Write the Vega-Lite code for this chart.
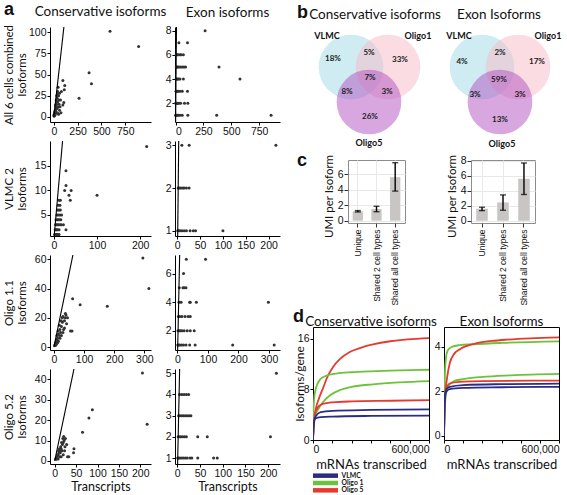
{
"$schema":"https://vega.github.io/schema/vega-lite/v6.json",
"padding":{"left":2,"top":0,"right":0,"bottom":0},
"background":"white",
"config":{
 "view":{"stroke":null},
 "concat":{"spacing":0},
 "axis":{"labelFont":"Liberation Sans","labelFontSize":10.5,"labelColor":"#111","tickColor":"#000","domainColor":"#000","tickSize":3,"labelPadding":1,"labelOverlap":false,"titleFont":"Lato","titleFontWeight":"normal","titleFontSize":12,"titleColor":"#111","grid":false},
 "title":{"font":"Lato","fontWeight":"normal","fontSize":13.5,"color":"#111"},
 "text":{"font":"Lato"}
},
"datasets":{
 "sc":[
  {"p":"r1c","t":590,"i":101},{"p":"r1c","t":890,"i":83},{"p":"r1c","t":370,"i":52},{"p":"r1c","t":395,"i":39},{"p":"r1c","t":265,"i":22},{"p":"r1c","t":95,"i":43},{"p":"r1c","t":115,"i":37},{"p":"r1c","t":110,"i":32},{"p":"r1c","t":45,"i":35},{"p":"r1c","t":40,"i":30},{"p":"r1c","t":80,"i":30},{"p":"r1c","t":105,"i":17},{"p":"r1c","t":95,"i":14},{"p":"r1c","t":45,"i":4},{"p":"r1c","t":60,"i":8},{"p":"r1c","t":30,"i":25},{"p":"r1c","t":35,"i":22},{"p":"r1c","t":25,"i":20},{"p":"r1c","t":50,"i":25},{"p":"r1c","t":55,"i":20},{"p":"r1c","t":40,"i":18},{"p":"r1c","t":30,"i":15},{"p":"r1c","t":20,"i":12},{"p":"r1c","t":25,"i":10},{"p":"r1c","t":15,"i":8},{"p":"r1c","t":10,"i":6},{"p":"r1c","t":8,"i":5},{"p":"r1c","t":5,"i":3},{"p":"r1c","t":3,"i":2},{"p":"r1c","t":2,"i":1},{"p":"r1c","t":12,"i":3},{"p":"r1c","t":20,"i":5},{"p":"r1c","t":35,"i":10},{"p":"r1c","t":45,"i":12},{"p":"r1c","t":55,"i":15},{"p":"r1c","t":65,"i":12},{"p":"r1c","t":70,"i":20},{"p":"r1c","t":60,"i":28},{"p":"r1c","t":38,"i":27},{"p":"r1c","t":28,"i":18},{"p":"r1c","t":18,"i":14},{"p":"r1c","t":6,"i":4},{"p":"r1c","t":4,"i":1},{"p":"r1c","t":10,"i":2},{"p":"r1c","t":15,"i":4},{"p":"r1c","t":25,"i":6},{"p":"r1c","t":75,"i":5},{"p":"r1c","t":50,"i":3},
  {"p":"r1e","t":265,"i":8},{"p":"r1e","t":30,"i":7},{"p":"r1e","t":107,"i":7},{"p":"r1e","t":6,"i":6},{"p":"r1e","t":15,"i":6},{"p":"r1e","t":25,"i":6},{"p":"r1e","t":40,"i":6},{"p":"r1e","t":50,"i":6},{"p":"r1e","t":70,"i":6},{"p":"r1e","t":6,"i":5},{"p":"r1e","t":12,"i":5},{"p":"r1e","t":20,"i":5},{"p":"r1e","t":30,"i":5},{"p":"r1e","t":45,"i":5},{"p":"r1e","t":60,"i":5},{"p":"r1e","t":75,"i":5},{"p":"r1e","t":90,"i":5},{"p":"r1e","t":390,"i":5},{"p":"r1e","t":5,"i":4},{"p":"r1e","t":10,"i":4},{"p":"r1e","t":18,"i":4},{"p":"r1e","t":28,"i":4},{"p":"r1e","t":40,"i":4},{"p":"r1e","t":70,"i":4},{"p":"r1e","t":578,"i":4},{"p":"r1e","t":4,"i":3},{"p":"r1e","t":8,"i":3},{"p":"r1e","t":15,"i":3},{"p":"r1e","t":25,"i":3},{"p":"r1e","t":40,"i":3},{"p":"r1e","t":60,"i":3},{"p":"r1e","t":107,"i":3},{"p":"r1e","t":2,"i":2},{"p":"r1e","t":6,"i":2},{"p":"r1e","t":12,"i":2},{"p":"r1e","t":20,"i":2},{"p":"r1e","t":30,"i":2},{"p":"r1e","t":45,"i":2},{"p":"r1e","t":80,"i":2},{"p":"r1e","t":110,"i":2},{"p":"r1e","t":1,"i":1},{"p":"r1e","t":4,"i":1},{"p":"r1e","t":8,"i":1},{"p":"r1e","t":15,"i":1},{"p":"r1e","t":25,"i":1},{"p":"r1e","t":40,"i":1},{"p":"r1e","t":60,"i":1},{"p":"r1e","t":110,"i":1},{"p":"r1e","t":369,"i":1},{"p":"r1e","t":857,"i":1},
  {"p":"r2c","t":215,"i":19},{"p":"r2c","t":100,"i":9},{"p":"r2c","t":28,"i":14},{"p":"r2c","t":28,"i":11},{"p":"r2c","t":25,"i":10},{"p":"r2c","t":35,"i":9},{"p":"r2c","t":40,"i":10},{"p":"r2c","t":38,"i":8},{"p":"r2c","t":22,"i":3},{"p":"r2c","t":28,"i":2},{"p":"r2c","t":2,"i":1},{"p":"r2c","t":3,"i":1},{"p":"r2c","t":4,"i":1},{"p":"r2c","t":5,"i":1},{"p":"r2c","t":6,"i":1},{"p":"r2c","t":8,"i":1},{"p":"r2c","t":10,"i":1},{"p":"r2c","t":12,"i":1},{"p":"r2c","t":3,"i":2},{"p":"r2c","t":5,"i":2},{"p":"r2c","t":7,"i":2},{"p":"r2c","t":9,"i":2},{"p":"r2c","t":12,"i":2},{"p":"r2c","t":4,"i":3},{"p":"r2c","t":6,"i":3},{"p":"r2c","t":8,"i":3},{"p":"r2c","t":11,"i":3},{"p":"r2c","t":14,"i":3},{"p":"r2c","t":5,"i":4},{"p":"r2c","t":8,"i":4},{"p":"r2c","t":10,"i":4},{"p":"r2c","t":13,"i":4},{"p":"r2c","t":16,"i":4},{"p":"r2c","t":7,"i":5},{"p":"r2c","t":10,"i":5},{"p":"r2c","t":14,"i":5},{"p":"r2c","t":9,"i":6},{"p":"r2c","t":12,"i":6},{"p":"r2c","t":15,"i":6},{"p":"r2c","t":10,"i":7},{"p":"r2c","t":14,"i":7},{"p":"r2c","t":12,"i":8},{"p":"r2c","t":15,"i":8},{"p":"r2c","t":18,"i":5},{"p":"r2c","t":17,"i":3},
  {"p":"r2e","t":10,"i":3},{"p":"r2e","t":26,"i":3},{"p":"r2e","t":216,"i":3},{"p":"r2e","t":2,"i":2},{"p":"r2e","t":5,"i":2},{"p":"r2e","t":8,"i":2},{"p":"r2e","t":12,"i":2},{"p":"r2e","t":15,"i":2},{"p":"r2e","t":20,"i":2},{"p":"r2e","t":26,"i":2},{"p":"r2e","t":1,"i":1},{"p":"r2e","t":3,"i":1},{"p":"r2e","t":6,"i":1},{"p":"r2e","t":10,"i":1},{"p":"r2e","t":15,"i":1},{"p":"r2e","t":20,"i":1},{"p":"r2e","t":28,"i":1},{"p":"r2e","t":35,"i":1},{"p":"r2e","t":40,"i":1},{"p":"r2e","t":100,"i":1},
  {"p":"r3c","t":295,"i":61},{"p":"r3c","t":315,"i":40},{"p":"r3c","t":62,"i":33},{"p":"r3c","t":87,"i":29},{"p":"r3c","t":177,"i":28},{"p":"r3c","t":40,"i":22},{"p":"r3c","t":38,"i":20},{"p":"r3c","t":35,"i":18},{"p":"r3c","t":42,"i":16},{"p":"r3c","t":30,"i":21},{"p":"r3c","t":28,"i":17},{"p":"r3c","t":25,"i":14},{"p":"r3c","t":32,"i":12},{"p":"r3c","t":55,"i":11},{"p":"r3c","t":60,"i":11},{"p":"r3c","t":20,"i":12},{"p":"r3c","t":22,"i":10},{"p":"r3c","t":18,"i":8},{"p":"r3c","t":15,"i":9},{"p":"r3c","t":12,"i":6},{"p":"r3c","t":10,"i":5},{"p":"r3c","t":8,"i":4},{"p":"r3c","t":6,"i":3},{"p":"r3c","t":4,"i":2},{"p":"r3c","t":3,"i":1},{"p":"r3c","t":5,"i":1},{"p":"r3c","t":8,"i":2},{"p":"r3c","t":12,"i":3},{"p":"r3c","t":15,"i":4},{"p":"r3c","t":20,"i":6},{"p":"r3c","t":25,"i":8},{"p":"r3c","t":30,"i":10},{"p":"r3c","t":35,"i":13},{"p":"r3c","t":28,"i":20},{"p":"r3c","t":45,"i":20},{"p":"r3c","t":38,"i":23},{"p":"r3c","t":24,"i":18},{"p":"r3c","t":14,"i":11},{"p":"r3c","t":10,"i":8},{"p":"r3c","t":18,"i":15},
  {"p":"r3e","t":29,"i":7},{"p":"r3e","t":92,"i":7},{"p":"r3e","t":20,"i":6},{"p":"r3e","t":6,"i":5},{"p":"r3e","t":18,"i":5},{"p":"r3e","t":22,"i":5},{"p":"r3e","t":28,"i":5},{"p":"r3e","t":5,"i":4},{"p":"r3e","t":12,"i":4},{"p":"r3e","t":40,"i":4},{"p":"r3e","t":42,"i":4},{"p":"r3e","t":62,"i":4},{"p":"r3e","t":298,"i":4},{"p":"r3e","t":3,"i":3},{"p":"r3e","t":8,"i":3},{"p":"r3e","t":15,"i":3},{"p":"r3e","t":25,"i":3},{"p":"r3e","t":35,"i":3},{"p":"r3e","t":42,"i":3},{"p":"r3e","t":2,"i":2},{"p":"r3e","t":6,"i":2},{"p":"r3e","t":10,"i":2},{"p":"r3e","t":15,"i":2},{"p":"r3e","t":22,"i":2},{"p":"r3e","t":32,"i":2},{"p":"r3e","t":42,"i":2},{"p":"r3e","t":55,"i":2},{"p":"r3e","t":1,"i":1},{"p":"r3e","t":4,"i":1},{"p":"r3e","t":8,"i":1},{"p":"r3e","t":14,"i":1},{"p":"r3e","t":20,"i":1},{"p":"r3e","t":28,"i":1},{"p":"r3e","t":40,"i":1},{"p":"r3e","t":58,"i":1},{"p":"r3e","t":181,"i":1},{"p":"r3e","t":317,"i":1},
  {"p":"r4c","t":205,"i":43},{"p":"r4c","t":216,"i":18},{"p":"r4c","t":88,"i":25},{"p":"r4c","t":80,"i":21},{"p":"r4c","t":65,"i":14},{"p":"r4c","t":45,"i":6},{"p":"r4c","t":44,"i":4},{"p":"r4c","t":33,"i":2},{"p":"r4c","t":25,"i":11},{"p":"r4c","t":22,"i":10},{"p":"r4c","t":20,"i":9},{"p":"r4c","t":18,"i":8},{"p":"r4c","t":24,"i":7},{"p":"r4c","t":15,"i":6},{"p":"r4c","t":12,"i":5},{"p":"r4c","t":10,"i":4},{"p":"r4c","t":8,"i":3},{"p":"r4c","t":6,"i":2},{"p":"r4c","t":4,"i":1},{"p":"r4c","t":3,"i":1},{"p":"r4c","t":2,"i":1},{"p":"r4c","t":5,"i":2},{"p":"r4c","t":7,"i":3},{"p":"r4c","t":9,"i":5},{"p":"r4c","t":11,"i":6},{"p":"r4c","t":14,"i":7},{"p":"r4c","t":16,"i":9},{"p":"r4c","t":19,"i":11},{"p":"r4c","t":21,"i":12},{"p":"r4c","t":13,"i":4},{"p":"r4c","t":17,"i":5},{"p":"r4c","t":8,"i":1},{"p":"r4c","t":12,"i":2},{"p":"r4c","t":20,"i":3},{"p":"r4c","t":23,"i":5},{"p":"r4c","t":28,"i":8},{"p":"r4c","t":30,"i":2},{"p":"r4c","t":15,"i":2},
  {"p":"r4e","t":218,"i":5},{"p":"r4e","t":5,"i":4},{"p":"r4e","t":10,"i":4},{"p":"r4e","t":15,"i":4},{"p":"r4e","t":20,"i":4},{"p":"r4e","t":25,"i":4},{"p":"r4e","t":3,"i":3},{"p":"r4e","t":6,"i":3},{"p":"r4e","t":10,"i":3},{"p":"r4e","t":14,"i":3},{"p":"r4e","t":18,"i":3},{"p":"r4e","t":22,"i":3},{"p":"r4e","t":26,"i":3},{"p":"r4e","t":30,"i":3},{"p":"r4e","t":2,"i":2},{"p":"r4e","t":5,"i":2},{"p":"r4e","t":8,"i":2},{"p":"r4e","t":12,"i":2},{"p":"r4e","t":16,"i":2},{"p":"r4e","t":20,"i":2},{"p":"r4e","t":45,"i":2},{"p":"r4e","t":66,"i":2},{"p":"r4e","t":205,"i":2},{"p":"r4e","t":1,"i":1},{"p":"r4e","t":3,"i":1},{"p":"r4e","t":6,"i":1},{"p":"r4e","t":10,"i":1},{"p":"r4e","t":14,"i":1},{"p":"r4e","t":18,"i":1},{"p":"r4e","t":22,"i":1},{"p":"r4e","t":28,"i":1},{"p":"r4e","t":32,"i":1},{"p":"r4e","t":45,"i":1},{"p":"r4e","t":80,"i":1},{"p":"r4e","t":88,"i":1}
 ],
 "idl":[{"t":0,"i":0,"t2":5000,"i2":5000}],
 "venn":[
  {"v":1,"set":"VLMC","cx":38,"cy":40},{"v":1,"set":"Oligo1","cx":75,"cy":40},{"v":1,"set":"Oligo5","cx":56,"cy":75},
  {"v":2,"set":"VLMC","cx":40,"cy":40},{"v":2,"set":"Oligo1","cx":76,"cy":40},{"v":2,"set":"Oligo5","cx":58,"cy":75}
 ],
 "vennlab":[
  {"v":1,"set":"VLMC","lx":14,"ly":9},{"v":1,"set":"Oligo1","lx":105,"ly":9},{"v":1,"set":"Oligo5","lx":56,"ly":116},
  {"v":2,"set":"VLMC","lx":17,"ly":9},{"v":2,"set":"Oligo1","lx":106,"ly":9},{"v":2,"set":"Oligo5","lx":60,"ly":117}
 ],
 "vennpct":[
  {"v":1,"pct":"18%","px":20,"py":32},{"v":1,"pct":"5%","px":56,"py":26},{"v":1,"pct":"33%","px":87,"py":33},{"v":1,"pct":"7%","px":57,"py":51},{"v":1,"pct":"8%","px":34,"py":65},{"v":1,"pct":"3%","px":74,"py":65},{"v":1,"pct":"26%","px":57,"py":90},
  {"v":2,"pct":"4%","px":20,"py":35},{"v":2,"pct":"2%","px":58,"py":26},{"v":2,"pct":"17%","px":95,"py":35},{"v":2,"pct":"59%","px":57,"py":53},{"v":2,"pct":"3%","px":33,"py":68},{"v":2,"pct":"3%","px":78,"py":68},{"v":2,"pct":"13%","px":58,"py":93}
 ],
 "umi":[
  {"g":"C","cat":"Unique","m":1.2,"lo":1.12,"hi":1.3},{"g":"C","cat":"Shared 2 cell types","m":1.5,"lo":1.15,"hi":1.85},{"g":"C","cat":"Shared all cell types","m":5.6,"lo":3.8,"hi":7.45},
  {"g":"E","cat":"Unique","m":1.6,"lo":1.35,"hi":1.8},{"g":"E","cat":"Shared 2 cell types","m":2.45,"lo":1.4,"hi":3.45},{"g":"E","cat":"Shared all cell types","m":5.6,"lo":3.5,"hi":7.7}
 ],
 "leg":[{"cell":"VLMC"},{"cell":"Oligo 1"},{"cell":"Oligo 5"}],
 "curves":[
  {"s":"C","cell":"Oligo 5","rep":"a","n":0,"y":0},{"s":"C","cell":"Oligo 5","rep":"a","n":5000,"y":3},{"s":"C","cell":"Oligo 5","rep":"a","n":15000,"y":5},{"s":"C","cell":"Oligo 5","rep":"a","n":30000,"y":6.5},{"s":"C","cell":"Oligo 5","rep":"a","n":52000,"y":8.2},{"s":"C","cell":"Oligo 5","rep":"a","n":75000,"y":10},{"s":"C","cell":"Oligo 5","rep":"a","n":103000,"y":11.5},{"s":"C","cell":"Oligo 5","rep":"a","n":140000,"y":12.8},{"s":"C","cell":"Oligo 5","rep":"a","n":190000,"y":13.9},{"s":"C","cell":"Oligo 5","rep":"a","n":250000,"y":14.6},{"s":"C","cell":"Oligo 5","rep":"a","n":310000,"y":15.1},{"s":"C","cell":"Oligo 5","rep":"a","n":400000,"y":15.6},{"s":"C","cell":"Oligo 5","rep":"a","n":490000,"y":15.9},{"s":"C","cell":"Oligo 5","rep":"a","n":600000,"y":16.1},
  {"s":"C","cell":"Oligo 1","rep":"a","n":0,"y":0},{"s":"C","cell":"Oligo 1","rep":"a","n":2000,"y":4},{"s":"C","cell":"Oligo 1","rep":"a","n":6000,"y":6.5},{"s":"C","cell":"Oligo 1","rep":"a","n":12000,"y":7.8},{"s":"C","cell":"Oligo 1","rep":"a","n":21000,"y":8.7},{"s":"C","cell":"Oligo 1","rep":"a","n":35000,"y":9.5},{"s":"C","cell":"Oligo 1","rep":"a","n":52000,"y":9.9},{"s":"C","cell":"Oligo 1","rep":"a","n":80000,"y":10.3},{"s":"C","cell":"Oligo 1","rep":"a","n":120000,"y":10.5},{"s":"C","cell":"Oligo 1","rep":"a","n":200000,"y":10.7},{"s":"C","cell":"Oligo 1","rep":"a","n":300000,"y":10.85},{"s":"C","cell":"Oligo 1","rep":"a","n":450000,"y":11},{"s":"C","cell":"Oligo 1","rep":"a","n":600000,"y":11.1},
  {"s":"C","cell":"Oligo 1","rep":"b","n":0,"y":0},{"s":"C","cell":"Oligo 1","rep":"b","n":3000,"y":2.5},{"s":"C","cell":"Oligo 1","rep":"b","n":10000,"y":3.8},{"s":"C","cell":"Oligo 1","rep":"b","n":26000,"y":4.8},{"s":"C","cell":"Oligo 1","rep":"b","n":52000,"y":6},{"s":"C","cell":"Oligo 1","rep":"b","n":90000,"y":7.1},{"s":"C","cell":"Oligo 1","rep":"b","n":140000,"y":7.9},{"s":"C","cell":"Oligo 1","rep":"b","n":200000,"y":8.4},{"s":"C","cell":"Oligo 1","rep":"b","n":310000,"y":8.8},{"s":"C","cell":"Oligo 1","rep":"b","n":450000,"y":9.1},{"s":"C","cell":"Oligo 1","rep":"b","n":600000,"y":9.3},
  {"s":"C","cell":"Oligo 5","rep":"b","n":0,"y":0},{"s":"C","cell":"Oligo 5","rep":"b","n":3000,"y":2.5},{"s":"C","cell":"Oligo 5","rep":"b","n":10000,"y":4},{"s":"C","cell":"Oligo 5","rep":"b","n":25000,"y":5.2},{"s":"C","cell":"Oligo 5","rep":"b","n":50000,"y":5.7},{"s":"C","cell":"Oligo 5","rep":"b","n":100000,"y":5.95},{"s":"C","cell":"Oligo 5","rep":"b","n":200000,"y":6.1},{"s":"C","cell":"Oligo 5","rep":"b","n":400000,"y":6.2},{"s":"C","cell":"Oligo 5","rep":"b","n":600000,"y":6.3},
  {"s":"C","cell":"VLMC","rep":"a","n":0,"y":0},{"s":"C","cell":"VLMC","rep":"a","n":4000,"y":2.5},{"s":"C","cell":"VLMC","rep":"a","n":15000,"y":3.8},{"s":"C","cell":"VLMC","rep":"a","n":40000,"y":4.4},{"s":"C","cell":"VLMC","rep":"a","n":100000,"y":4.6},{"s":"C","cell":"VLMC","rep":"a","n":300000,"y":4.75},{"s":"C","cell":"VLMC","rep":"a","n":600000,"y":4.85},
  {"s":"C","cell":"VLMC","rep":"b","n":0,"y":0},{"s":"C","cell":"VLMC","rep":"b","n":3000,"y":2.4},{"s":"C","cell":"VLMC","rep":"b","n":12000,"y":3.4},{"s":"C","cell":"VLMC","rep":"b","n":40000,"y":3.6},{"s":"C","cell":"VLMC","rep":"b","n":100000,"y":3.7},{"s":"C","cell":"VLMC","rep":"b","n":300000,"y":3.8},{"s":"C","cell":"VLMC","rep":"b","n":600000,"y":3.85},
  {"s":"E","cell":"Oligo 1","rep":"a","n":0,"y":0},{"s":"E","cell":"Oligo 1","rep":"a","n":2000,"y":1.5},{"s":"E","cell":"Oligo 1","rep":"a","n":5000,"y":2.8},{"s":"E","cell":"Oligo 1","rep":"a","n":10000,"y":3.5},{"s":"E","cell":"Oligo 1","rep":"a","n":20000,"y":3.85},{"s":"E","cell":"Oligo 1","rep":"a","n":40000,"y":4.0},{"s":"E","cell":"Oligo 1","rep":"a","n":80000,"y":4.08},{"s":"E","cell":"Oligo 1","rep":"a","n":150000,"y":4.12},{"s":"E","cell":"Oligo 1","rep":"a","n":300000,"y":4.18},{"s":"E","cell":"Oligo 1","rep":"a","n":600000,"y":4.25},
  {"s":"E","cell":"Oligo 5","rep":"a","n":0,"y":0},{"s":"E","cell":"Oligo 5","rep":"a","n":3000,"y":1.2},{"s":"E","cell":"Oligo 5","rep":"a","n":8000,"y":2.0},{"s":"E","cell":"Oligo 5","rep":"a","n":16000,"y":2.6},{"s":"E","cell":"Oligo 5","rep":"a","n":31000,"y":3.3},{"s":"E","cell":"Oligo 5","rep":"a","n":50000,"y":3.65},{"s":"E","cell":"Oligo 5","rep":"a","n":83000,"y":3.9},{"s":"E","cell":"Oligo 5","rep":"a","n":120000,"y":4.05},{"s":"E","cell":"Oligo 5","rep":"a","n":170000,"y":4.17},{"s":"E","cell":"Oligo 5","rep":"a","n":250000,"y":4.27},{"s":"E","cell":"Oligo 5","rep":"a","n":330000,"y":4.33},{"s":"E","cell":"Oligo 5","rep":"a","n":450000,"y":4.39},{"s":"E","cell":"Oligo 5","rep":"a","n":600000,"y":4.43},
  {"s":"E","cell":"Oligo 1","rep":"b","n":0,"y":0},{"s":"E","cell":"Oligo 1","rep":"b","n":3000,"y":1.0},{"s":"E","cell":"Oligo 1","rep":"b","n":8000,"y":1.7},{"s":"E","cell":"Oligo 1","rep":"b","n":20000,"y":2.2},{"s":"E","cell":"Oligo 1","rep":"b","n":50000,"y":2.45},{"s":"E","cell":"Oligo 1","rep":"b","n":100000,"y":2.55},{"s":"E","cell":"Oligo 1","rep":"b","n":200000,"y":2.65},{"s":"E","cell":"Oligo 1","rep":"b","n":350000,"y":2.72},{"s":"E","cell":"Oligo 1","rep":"b","n":600000,"y":2.78},
  {"s":"E","cell":"Oligo 5","rep":"b","n":0,"y":0},{"s":"E","cell":"Oligo 5","rep":"b","n":3000,"y":1.4},{"s":"E","cell":"Oligo 5","rep":"b","n":10000,"y":2.1},{"s":"E","cell":"Oligo 5","rep":"b","n":30000,"y":2.35},{"s":"E","cell":"Oligo 5","rep":"b","n":80000,"y":2.42},{"s":"E","cell":"Oligo 5","rep":"b","n":200000,"y":2.46},{"s":"E","cell":"Oligo 5","rep":"b","n":600000,"y":2.48},
  {"s":"E","cell":"VLMC","rep":"a","n":0,"y":0},{"s":"E","cell":"VLMC","rep":"a","n":3000,"y":1.5},{"s":"E","cell":"VLMC","rep":"a","n":10000,"y":2.05},{"s":"E","cell":"VLMC","rep":"a","n":30000,"y":2.2},{"s":"E","cell":"VLMC","rep":"a","n":100000,"y":2.28},{"s":"E","cell":"VLMC","rep":"a","n":300000,"y":2.32},{"s":"E","cell":"VLMC","rep":"a","n":600000,"y":2.34},
  {"s":"E","cell":"VLMC","rep":"b","n":0,"y":0},{"s":"E","cell":"VLMC","rep":"b","n":3000,"y":1.4},{"s":"E","cell":"VLMC","rep":"b","n":10000,"y":1.95},{"s":"E","cell":"VLMC","rep":"b","n":30000,"y":2.1},{"s":"E","cell":"VLMC","rep":"b","n":100000,"y":2.15},{"s":"E","cell":"VLMC","rep":"b","n":300000,"y":2.18},{"s":"E","cell":"VLMC","rep":"b","n":600000,"y":2.2}
 ]
},
"spacing":12,
"hconcat":[
 {"spacing":3,
  "title":{"text":"a","anchor":"start","frame":"group","font":"Liberation Sans","fontSize":18,"fontWeight":"bold","dx":-46,"offset":0,"dy":14},
  "vconcat":[
   {"bounds":"flush","spacing":24,"hconcat":[
    {"width":101,"height":95,"title":{"text":"Conservative isoforms","offset":6},
     "encoding":{"x":{"field":"t","type":"quantitative","scale":{"domain":[-40,1020],"nice":false,"zero":false},"axis":{"values":[0,250,500,750],"title":null}},
        "y":{"field":"i","type":"quantitative","scale":{"domain":[-6,106],"nice":false,"zero":false},"axis":{"values":[0,25,50,75,100],"title":["All 6 cells combined","Isoforms"],"titleX":-47,"titleBaseline":"top","titleLineHeight":13,"titleFontSize":11.5}}},
     "layer":[
      {"data":{"name":"sc"},"transform":[{"filter":"datum.p == 'r1c'"}],"mark":{"type":"circle","size":9,"color":"#333","opacity":1}},
      {"data":{"name":"idl"},"mark":{"type":"rule","clip":true,"color":"#000","strokeWidth":1.1},"encoding":{"x2":{"field":"t2"},"y2":{"field":"i2"}}}
     ]},
    {"width":105,"height":95,"title":{"text":"Exon isoforms","offset":6},
     "encoding":{"x":{"field":"t","type":"quantitative","scale":{"domain":[-5,937],"nice":false,"zero":false},"axis":{"values":[0,250,500,750],"title":null}},
        "y":{"field":"i","type":"quantitative","scale":{"domain":[0.45,8.3],"nice":false,"zero":false},"axis":{"values":[2,4,6,8],"title":null}}},
     "layer":[
      {"data":{"name":"sc"},"transform":[{"filter":"datum.p == 'r1e'"}],"mark":{"type":"circle","size":9,"color":"#333","opacity":1}},
      {"data":{"name":"idl"},"mark":{"type":"rule","clip":true,"color":"#000","strokeWidth":1.1},"encoding":{"x2":{"field":"t2"},"y2":{"field":"i2"}}}
     ]}
   ]},
   {"bounds":"flush","spacing":24,"hconcat":[
    {"width":101,"height":95,
     "encoding":{"x":{"field":"t","type":"quantitative","scale":{"domain":[-9,225],"nice":false,"zero":false},"axis":{"values":[0,100,200],"title":null}},
        "y":{"field":"i","type":"quantitative","scale":{"domain":[0.7,20.1],"nice":false,"zero":false},"axis":{"values":[5,10,15],"title":["VLMC 2","Isoforms"],"titleX":-47,"titleBaseline":"top","titleLineHeight":13,"titleFontSize":11.5}}},
     "layer":[
      {"data":{"name":"sc"},"transform":[{"filter":"datum.p == 'r2c'"}],"mark":{"type":"circle","size":9,"color":"#333","opacity":1}},
      {"data":{"name":"idl"},"mark":{"type":"rule","clip":true,"color":"#000","strokeWidth":1.1},"encoding":{"x2":{"field":"t2"},"y2":{"field":"i2"}}}
     ]},
    {"width":105,"height":95,
     "encoding":{"x":{"field":"t","type":"quantitative","scale":{"domain":[-5,225],"nice":false,"zero":false},"axis":{"values":[0,50,100,150,200],"title":null}},
        "y":{"field":"i","type":"quantitative","scale":{"domain":[0.88,3.1],"nice":false,"zero":false},"axis":{"values":[1,2,3],"title":null}}},
     "layer":[
      {"data":{"name":"sc"},"transform":[{"filter":"datum.p == 'r2e'"}],"mark":{"type":"circle","size":9,"color":"#333","opacity":1}},
      {"data":{"name":"idl"},"mark":{"type":"rule","clip":true,"color":"#000","strokeWidth":1.1},"encoding":{"x2":{"field":"t2"},"y2":{"field":"i2"}}}
     ]}
   ]},
   {"bounds":"flush","spacing":24,"hconcat":[
    {"width":101,"height":95,
     "encoding":{"x":{"field":"t","type":"quantitative","scale":{"domain":[-13,322],"nice":false,"zero":false},"axis":{"values":[0,100,200,300],"title":null}},
        "y":{"field":"i","type":"quantitative","scale":{"domain":[-2,63],"nice":false,"zero":false},"axis":{"values":[0,20,40,60],"title":["Oligo 1.1","Isoforms"],"titleX":-47,"titleBaseline":"top","titleLineHeight":13,"titleFontSize":11.5}}},
     "layer":[
      {"data":{"name":"sc"},"transform":[{"filter":"datum.p == 'r3c'"}],"mark":{"type":"circle","size":9,"color":"#333","opacity":1}},
      {"data":{"name":"idl"},"mark":{"type":"rule","clip":true,"color":"#000","strokeWidth":1.1},"encoding":{"x2":{"field":"t2"},"y2":{"field":"i2"}}}
     ]},
    {"width":105,"height":95,
     "encoding":{"x":{"field":"t","type":"quantitative","scale":{"domain":[-8,336],"nice":false,"zero":false},"axis":{"values":[0,100,200,300],"title":null}},
        "y":{"field":"i","type":"quantitative","scale":{"domain":[0.65,7.3],"nice":false,"zero":false},"axis":{"values":[2,4,6],"title":null}}},
     "layer":[
      {"data":{"name":"sc"},"transform":[{"filter":"datum.p == 'r3e'"}],"mark":{"type":"circle","size":9,"color":"#333","opacity":1}},
      {"data":{"name":"idl"},"mark":{"type":"rule","clip":true,"color":"#000","strokeWidth":1.1},"encoding":{"x2":{"field":"t2"},"y2":{"field":"i2"}}}
     ]}
   ]},
   {"bounds":"flush","spacing":24,"hconcat":[
    {"width":101,"height":95,
     "encoding":{"x":{"field":"t","type":"quantitative","scale":{"domain":[-11,225],"nice":false,"zero":false},"axis":{"values":[0,50,100,150,200],"title":"Transcripts","titleFontSize":12.5,"titlePadding":2}},
        "y":{"field":"i","type":"quantitative","scale":{"domain":[-1.5,45],"nice":false,"zero":false},"axis":{"values":[0,10,20,30,40],"title":["Oligo 5.2","Isoforms"],"titleX":-47,"titleBaseline":"top","titleLineHeight":13,"titleFontSize":11.5}}},
     "layer":[
      {"data":{"name":"sc"},"transform":[{"filter":"datum.p == 'r4c'"}],"mark":{"type":"circle","size":9,"color":"#333","opacity":1}},
      {"data":{"name":"idl"},"mark":{"type":"rule","clip":true,"color":"#000","strokeWidth":1.1},"encoding":{"x2":{"field":"t2"},"y2":{"field":"i2"}}}
     ]},
    {"width":105,"height":95,
     "encoding":{"x":{"field":"t","type":"quantitative","scale":{"domain":[-5,226],"nice":false,"zero":false},"axis":{"values":[0,50,100,150,200],"title":"Transcripts","titleFontSize":12.5,"titlePadding":2}},
        "y":{"field":"i","type":"quantitative","scale":{"domain":[0.72,5.2],"nice":false,"zero":false},"axis":{"values":[1,2,3,4,5],"title":null}}},
     "layer":[
      {"data":{"name":"sc"},"transform":[{"filter":"datum.p == 'r4e'"}],"mark":{"type":"circle","size":9,"color":"#333","opacity":1}},
      {"data":{"name":"idl"},"mark":{"type":"rule","clip":true,"color":"#000","strokeWidth":1.1},"encoding":{"x2":{"field":"t2"},"y2":{"field":"i2"}}}
     ]}
   ]}
  ]},
 {"spacing":0,
  "vconcat":[
   {"bounds":"flush","spacing":5,
    "title":{"text":"b","anchor":"start","frame":"group","font":"Liberation Sans","fontSize":18,"fontWeight":"bold","dx":-16,"offset":0,"dy":14},
    "hconcat":[
     {"width":124,"height":122,"title":{"text":"Conservative isoforms","offset":6},
      "encoding":{"x":{"field":"cx","type":"quantitative","scale":{"domain":[0,124],"nice":false,"zero":false},"axis":null},
         "y":{"field":"cy","type":"quantitative","scale":{"domain":[0,122],"reverse":true,"nice":false,"zero":false},"axis":null}},
      "layer":[
       {"data":{"name":"venn"},"transform":[{"filter":"datum.v == 1"}],"mark":{"type":"circle","size":4185,"opacity":0.5},
        "encoding":{"fill":{"field":"set","type":"nominal","scale":{"domain":["VLMC","Oligo1","Oligo5"],"range":["#9dd9e6","#f8b9c6","#b24fc0"]},"legend":null}}},
       {"data":{"name":"vennlab"},"transform":[{"filter":"datum.v == 1"}],"mark":{"type":"text","fontSize":9,"fontWeight":"bold","color":"#111"},
        "encoding":{"x":{"field":"lx","type":"quantitative"},"y":{"field":"ly","type":"quantitative"},"text":{"field":"set"}}},
       {"data":{"name":"vennpct"},"transform":[{"filter":"datum.v == 1"}],"mark":{"type":"text","fontSize":8,"fontWeight":"bold","color":"#222"},
        "encoding":{"x":{"field":"px","type":"quantitative"},"y":{"field":"py","type":"quantitative"},"text":{"field":"pct"}}}
      ]},
     {"width":114,"height":122,"title":{"text":"Exon Isoforms","offset":6},
      "encoding":{"x":{"field":"cx","type":"quantitative","scale":{"domain":[0,114],"nice":false,"zero":false},"axis":null},
         "y":{"field":"cy","type":"quantitative","scale":{"domain":[0,122],"reverse":true,"nice":false,"zero":false},"axis":null}},
      "layer":[
       {"data":{"name":"venn"},"transform":[{"filter":"datum.v == 2"}],"mark":{"type":"circle","size":4185,"opacity":0.5},
        "encoding":{"fill":{"field":"set","type":"nominal","scale":{"domain":["VLMC","Oligo1","Oligo5"],"range":["#9dd9e6","#f8b9c6","#b24fc0"]},"legend":null}}},
       {"data":{"name":"vennlab"},"transform":[{"filter":"datum.v == 2"}],"mark":{"type":"text","fontSize":9,"fontWeight":"bold","color":"#111"},
        "encoding":{"x":{"field":"lx","type":"quantitative"},"y":{"field":"ly","type":"quantitative"},"text":{"field":"set"}}},
       {"data":{"name":"vennpct"},"transform":[{"filter":"datum.v == 2"}],"mark":{"type":"text","fontSize":8,"fontWeight":"bold","color":"#222"},
        "encoding":{"x":{"field":"px","type":"quantitative"},"y":{"field":"py","type":"quantitative"},"text":{"field":"pct"}}}
      ]}
    ]},
   {"width":1,"height":2,"data":{"values":[]},"mark":"point"},
   {"bounds":"flush","spacing":0,
    "title":{"text":"c","anchor":"start","frame":"group","font":"Liberation Sans","fontSize":18,"fontWeight":"bold","dx":-16,"offset":0,"dy":16},
    "hconcat":[
     {"width":35,"height":1,"data":{"values":[]},"mark":"point"},
     {"width":57,"height":63,"view":{"stroke":"#8c8c8c"},
      "data":{"name":"umi"},"transform":[{"filter":"datum.g == 'C'"}],
      "encoding":{"x":{"field":"cat","type":"nominal","sort":["Unique","Shared 2 cell types","Shared all cell types"],"scale":{"paddingInner":0.45,"paddingOuter":0.25},"axis":{"labelAngle":-90,"title":null,"domain":false,"grid":true,"gridColor":"#e8e8e8","tickColor":"#333","tickSize":4,"labelFont":"Liberation Sans","labelFontSize":8.5,"labelPadding":2}}},
      "layer":[
       {"mark":{"type":"bar","color":"#c9c5c5"},"encoding":{"y":{"field":"m","type":"quantitative","title":"UMI per Isoform","scale":{"domain":[-0.3,7.8],"nice":false},"axis":{"values":[0,2,4,6],"domain":false,"grid":true,"gridColor":"#e8e8e8","tickColor":"#333","tickSize":4,"titleFontSize":11.5,"titlePadding":3,"titleY":36}}}},
       {"mark":{"type":"errorbar","ticks":{"size":6,"thickness":1.4,"color":"#000"},"rule":{"strokeWidth":1.4,"color":"#000"}},"encoding":{"y":{"field":"lo","type":"quantitative","title":"UMI per Isoform","scale":{"domain":[-0.3,7.8],"nice":false},"axis":{"values":[0,2,4,6],"domain":false,"grid":true,"gridColor":"#e8e8e8","tickColor":"#333","tickSize":4,"titleFontSize":11.5,"titlePadding":3,"titleY":36}},"y2":{"field":"hi"}}}
      ]},
     {"width":66,"height":1,"data":{"values":[]},"mark":"point"},
     {"width":64,"height":63,"view":{"stroke":"#8c8c8c"},
      "data":{"name":"umi"},"transform":[{"filter":"datum.g == 'E'"}],
      "encoding":{"x":{"field":"cat","type":"nominal","sort":["Unique","Shared 2 cell types","Shared all cell types"],"scale":{"paddingInner":0.45,"paddingOuter":0.25},"axis":{"labelAngle":-90,"title":null,"domain":false,"grid":true,"gridColor":"#e8e8e8","tickColor":"#333","tickSize":4,"labelFont":"Liberation Sans","labelFontSize":8.5,"labelPadding":2}}},
      "layer":[
       {"mark":{"type":"bar","color":"#c9c5c5"},"encoding":{"y":{"field":"m","type":"quantitative","title":"UMI per Isoform","scale":{"domain":[-0.3,8.1],"nice":false},"axis":{"values":[0,2,4,6,8],"domain":false,"grid":true,"gridColor":"#e8e8e8","tickColor":"#333","tickSize":4,"titleFontSize":11.5,"titlePadding":3,"titleY":36}}}},
       {"mark":{"type":"errorbar","ticks":{"size":6,"thickness":1.4,"color":"#000"},"rule":{"strokeWidth":1.4,"color":"#000"}},"encoding":{"y":{"field":"lo","type":"quantitative","title":"UMI per Isoform","scale":{"domain":[-0.3,8.1],"nice":false},"axis":{"values":[0,2,4,6,8],"domain":false,"grid":true,"gridColor":"#e8e8e8","tickColor":"#333","tickSize":4,"titleFontSize":11.5,"titlePadding":3,"titleY":36}},"y2":{"field":"hi"}}}
      ]}
    ]},
   {"width":1,"height":2,"data":{"values":[]},"mark":"point"},
   {"bounds":"flush","spacing":15,
    "title":{"text":"d","anchor":"start","frame":"group","font":"Liberation Sans","fontSize":18,"fontWeight":"bold","dx":-20,"offset":0,"dy":12},
    "hconcat":[
     {"width":116,"height":113,"view":{"stroke":"#000","strokeWidth":1},"title":{"text":"Conservative isoforms","offset":-1},
      "data":{"name":"curves"},"transform":[{"filter":"datum.s == 'C'"}],
      "mark":{"type":"line","strokeWidth":1.8,"interpolate":"monotone","clip":true},
      "encoding":{
       "x":{"field":"n","type":"quantitative","scale":{"domain":[0,600000],"nice":false},"axis":{"values":[0,100000,200000,300000,400000,500000,600000],"labelExpr":"datum.value == 0 || datum.value == 600000 ? format(datum.value, ',') : ''","labelFlush":true,"title":"mRNAs transcribed","titleFontSize":13,"titlePadding":4,"domain":false}},
       "y":{"field":"y","type":"quantitative","scale":{"domain":[0,17.85],"nice":false},"axis":{"values":[0,8,16],"title":"Isoforms/gene","domain":false,"titleX":-14,"titleBaseline":"middle"}},
       "color":{"field":"cell","type":"nominal","scale":{"domain":["VLMC","Oligo 1","Oligo 5"],"range":["#2b2d84","#6cc23a","#e63a2e"]},"legend":null},
       "detail":{"field":"rep"}}},
     {"width":115,"height":113,"view":{"stroke":"#000","strokeWidth":1},"title":{"text":"Exon Isoforms","offset":-1},
      "data":{"name":"curves"},"transform":[{"filter":"datum.s == 'E'"}],
      "mark":{"type":"line","strokeWidth":1.8,"interpolate":"monotone","clip":true},
      "encoding":{
       "x":{"field":"n","type":"quantitative","scale":{"domain":[0,600000],"nice":false},"axis":{"values":[0,100000,200000,300000,400000,500000,600000],"labelExpr":"datum.value == 0 || datum.value == 600000 ? format(datum.value, ',') : ''","labelFlush":true,"title":"mRNAs transcribed","titleFontSize":13,"titlePadding":4,"domain":false}},
       "y":{"field":"y","type":"quantitative","scale":{"domain":[-0.2,4.9],"nice":false},"axis":{"values":[0,2,4],"title":null,"domain":false}},
       "color":{"field":"cell","type":"nominal","scale":{"domain":["VLMC","Oligo 1","Oligo 5"],"range":["#2b2d84","#6cc23a","#e63a2e"]},"legend":null},
       "detail":{"field":"rep"}}}
    ]},
   {"width":25,"height":22,"data":{"name":"leg"},
    "mark":{"type":"bar","size":4.5},
    "encoding":{
     "y":{"field":"cell","type":"nominal","sort":["VLMC","Oligo 1","Oligo 5"],"scale":{"paddingInner":0,"paddingOuter":0},"axis":{"orient":"right","title":null,"domain":false,"ticks":false,"labelFont":"Lato","labelFontSize":6.8,"labelFontWeight":"bold","labelPadding":3}},
     "x":{"aggregate":"count","type":"quantitative","scale":{"domain":[0,1],"nice":false},"axis":null},
     "color":{"field":"cell","type":"nominal","scale":{"domain":["VLMC","Oligo 1","Oligo 5"],"range":["#2b2d84","#6cc23a","#e63a2e"]},"legend":null}}}
  ]}
]
}
